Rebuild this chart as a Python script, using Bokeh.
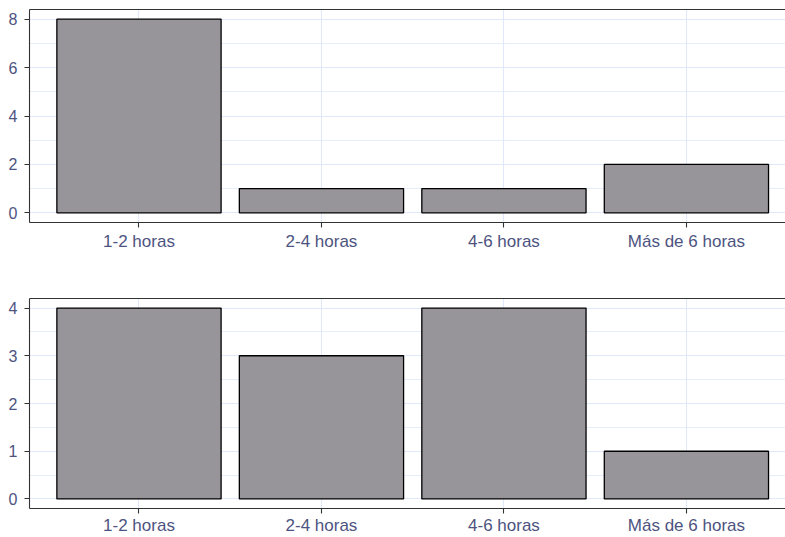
from bokeh.plotting import figure
from bokeh.models import Range1d, FixedTicker, LinearAxis
from bokeh.layouts import column
from bokeh.embed import file_html
from bokeh.resources import INLINE

# ---- data ----
categories = ["1-2 horas", "2-4 horas", "4-6 horas", "Más de 6 horas"]
top_counts = [8, 1, 1, 2]
bottom_counts = [4, 3, 4, 1]
top_yticks = [0, 2, 4, 6, 8]
top_yminor = [1, 3, 5, 7]
bottom_yticks = [0, 1, 2, 3, 4]
bottom_yminor = [0.5, 1.5, 2.5, 3.5]

FONT = "Liberation Sans"
TEXT_COLOR = "#4d5380"
BORDER = "#333333"
GRID = "#dfe9fb"
FILL = "#98959a"


def make_panel(values, yticks, yminor, ylo, yhi, height, top_b, bottom_b, xstandoff):
    xs = [i + 1 for i in range(len(categories))]
    p = figure(width=785, height=height,
               x_range=Range1d(0.4, 4.543), y_range=Range1d(ylo, yhi),
               output_backend="svg", toolbar_location=None,
               min_border_left=29, min_border_right=0,
               min_border_top=top_b, min_border_bottom=bottom_b)
    p.outline_line_color = None
    p.background_fill_color = "white"
    p.border_fill_color = "white"

    p.vbar(x=xs, top=values, bottom=0, width=0.9,
           fill_color=FILL, line_color="black", line_width=1.3)

    xa = p.xaxis[0]
    xa.ticker = FixedTicker(ticks=xs)
    xa.major_label_overrides = {x: c for x, c in zip(xs, categories)}
    xa.major_label_text_font = FONT
    xa.major_label_text_font_size = "17px"
    xa.major_label_text_color = TEXT_COLOR
    xa.major_label_standoff = xstandoff
    xa.major_tick_out = 5
    xa.major_tick_in = 0
    xa.minor_tick_out = 0
    xa.minor_tick_in = 0
    xa.axis_line_color = BORDER
    xa.axis_line_width = 1.1
    xa.major_tick_line_color = BORDER
    xa.major_tick_line_width = 1.1

    ya = p.yaxis[0]
    ya.ticker = FixedTicker(ticks=yticks, minor_ticks=yminor)
    ya.major_label_text_font = FONT
    ya.major_label_text_font_size = "16px"
    ya.major_label_text_color = TEXT_COLOR
    ya.major_label_standoff = 7
    ya.major_tick_out = 5
    ya.major_tick_in = 0
    ya.minor_tick_out = 0
    ya.minor_tick_in = 0
    ya.axis_line_color = BORDER
    ya.axis_line_width = 1.1
    ya.major_tick_line_color = BORDER
    ya.major_tick_line_width = 1.1

    top_axis = LinearAxis(ticker=FixedTicker(ticks=[]),
                          major_label_text_font_size="0px",
                          major_tick_out=0, major_tick_in=0,
                          minor_tick_out=0, minor_tick_in=0,
                          axis_line_color=BORDER, axis_line_width=1.1)
    p.add_layout(top_axis, "above")

    p.xgrid.grid_line_color = GRID
    p.xgrid.grid_line_width = 1.1
    p.ygrid.grid_line_color = GRID
    p.ygrid.grid_line_width = 1.1
    p.ygrid.minor_grid_line_color = GRID
    p.ygrid.minor_grid_line_width = 0.8
    return p


p1 = make_panel(top_counts, top_yticks, top_yminor, -0.4, 8.4, 260, 9, 38, 4)
p2 = make_panel(bottom_counts, bottom_yticks, bottom_yminor, -0.2, 4.2, 277, 38, 26, 2)

layout = column(p1, p2, spacing=0)
open("out.html", "w").write(file_html(layout, INLINE))
